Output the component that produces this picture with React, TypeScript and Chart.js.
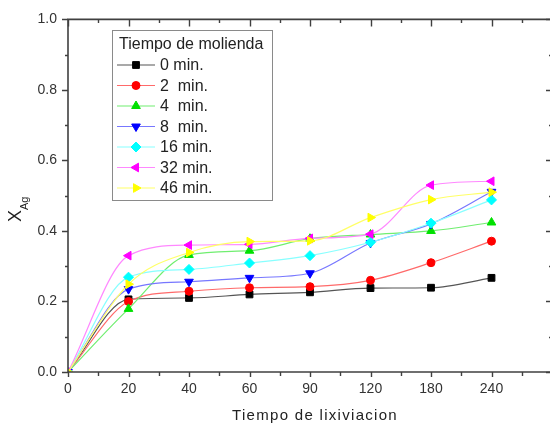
import React, { useEffect, useRef } from "react";
import { Chart, registerables } from "chart.js";

Chart.register(...registerables);

const categories = ["0", "20", "40", "60", "90", "120", "180", "240"];
const seriesLabels = ["0 min.", "2  min.", "4  min.", "8  min.", "16 min.", "32 min.", "46 min."];
const min0 = [0, 0.206, 0.21, 0.22, 0.226, 0.238, 0.239, 0.267];
const min2 = [0, 0.2, 0.229, 0.239, 0.242, 0.26, 0.31, 0.371];
const min4 = [0, 0.179, 0.332, 0.344, 0.378, 0.39, 0.4, 0.424];
const min8 = [0, 0.235, 0.256, 0.267, 0.28, 0.366, 0.42, 0.511];
const min16 = [0, 0.269, 0.291, 0.309, 0.33, 0.368, 0.422, 0.488];
const min32 = [0, 0.33, 0.36, 0.362, 0.379, 0.391, 0.53, 0.541];
const min46 = [0, 0.249, 0.339, 0.37, 0.372, 0.438, 0.489, 0.51];
const yTickValues = [0, 0.2, 0.4, 0.6, 0.8, 1.0];

const FONT = "'Liberation Sans', Arial, sans-serif";

const styles = [
  { marker: "#000000", line: "#555555", pointStyle: "rect", rotation: 0, radius: 4.8 },
  { marker: "#ff0000", line: "#ff6a6a", pointStyle: "circle", rotation: 0, radius: 4 },
  { marker: "#00e000", line: "#70ee70", pointStyle: "triangle", rotation: 0, radius: 5 },
  { marker: "#0000ff", line: "#7777ff", pointStyle: "triangle", rotation: 180, radius: 5 },
  { marker: "#00ffff", line: "#88ffff", pointStyle: "rectRot", rotation: 0, radius: 5 },
  { marker: "#ff00ff", line: "#ff88ff", pointStyle: "triangle", rotation: -90, radius: 5 },
  { marker: "#ffff00", line: "#ffff66", pointStyle: "triangle", rotation: 90, radius: 5 },
];

const allSeries = [min0, min2, min4, min8, min16, min32, min46];

function drawMarker(ctx: CanvasRenderingContext2D, style: string, rotationDeg: number, r: number, x: number, y: number) {
  ctx.save();
  ctx.translate(x, y);
  ctx.rotate((rotationDeg * Math.PI) / 180);
  ctx.beginPath();
  if (style === "circle") {
    ctx.arc(0, 0, r, 0, Math.PI * 2);
  } else if (style === "rect") {
    const s = r * Math.SQRT1_2;
    ctx.rect(-s, -s, 2 * s, 2 * s);
  } else if (style === "rectRot") {
    ctx.moveTo(0, -r);
    ctx.lineTo(r, 0);
    ctx.lineTo(0, r);
    ctx.lineTo(-r, 0);
    ctx.closePath();
  } else {
    ctx.moveTo(0, -r);
    ctx.lineTo(r * Math.cos(Math.PI / 6), r * 0.5);
    ctx.lineTo(-r * Math.cos(Math.PI / 6), r * 0.5);
    ctx.closePath();
  }
  ctx.fill();
  ctx.stroke();
  ctx.restore();
}

const decorPlugin = {
  id: "decor",
  afterDraw(chart: any) {
    const ctx = chart.ctx as CanvasRenderingContext2D;
    const { left, right, top, bottom } = chart.chartArea;
    const xs = chart.scales.x;
    const ys = chart.scales.y;
    ctx.save();
    ctx.strokeStyle = "#404040";
    ctx.lineWidth = 1.6;
    ctx.beginPath();
    ctx.rect(left, top, right - left, bottom - top);
    ctx.stroke();
    ctx.lineWidth = 1.4;
    ctx.beginPath();
    for (let i = 0; i <= 16; i++) {
      const v = i / 2;
      const px = Math.round(xs.getPixelForValue(v)) + 0.5;
      const major = i % 2 === 0;
      ctx.moveTo(px, bottom);
      ctx.lineTo(px, bottom + (major ? 5 : 4));
      ctx.moveTo(px, top);
      ctx.lineTo(px, top + (major ? 7 : 3.5));
    }
    for (let i = 0; i <= 10; i++) {
      const v = i / 10;
      const py = Math.round(ys.getPixelForValue(v)) + 0.5;
      const major = i % 2 === 0;
      ctx.moveTo(left, py);
      ctx.lineTo(left - (major ? 6 : 3), py);
      ctx.moveTo(right, py);
      ctx.lineTo(right - (major ? 6 : 3), py);
    }
    ctx.stroke();

    ctx.fillStyle = "#222222";
    ctx.font = `15px ${FONT}`;
    (ctx as any).letterSpacing = "1.3px";
    ctx.textAlign = "center";
    ctx.textBaseline = "middle";
    ctx.fillText("Tiempo de lixiviacion", 315, 416);
    (ctx as any).letterSpacing = "0px";

    ctx.save();
    ctx.translate(16, 216);
    ctx.rotate(-Math.PI / 2);
    ctx.font = `18px ${FONT}`;
    ctx.textAlign = "center";
    ctx.fillText("X", 0, 0);
    ctx.font = `11px ${FONT}`;
    ctx.textAlign = "left";
    ctx.fillText("Ag", 6, 9);
    ctx.restore();

    const bx = 112, by = 30, bw = 160, bh = 170;
    ctx.fillStyle = "#ffffff";
    ctx.fillRect(bx, by, bw, bh);
    ctx.strokeStyle = "#8a8a8a";
    ctx.lineWidth = 1;
    ctx.strokeRect(bx + 0.5, by + 0.5, bw, bh);
    ctx.fillStyle = "#222222";
    ctx.font = `16px ${FONT}`;
    ctx.textAlign = "left";
    ctx.textBaseline = "middle";
    ctx.fillText("Tiempo de molienda", 119, 45);
    chart.data.datasets.forEach((ds: any, i: number) => {
      const yy = 65 + i * 20.5;
      const st = styles[i];
      ctx.strokeStyle = st.line;
      ctx.lineWidth = 1.2;
      ctx.beginPath();
      ctx.moveTo(117, yy);
      ctx.lineTo(155, yy);
      ctx.stroke();
      ctx.fillStyle = st.marker;
      ctx.strokeStyle = st.marker;
      ctx.lineWidth = 1;
      drawMarker(ctx, st.pointStyle, st.rotation, st.radius, 136, yy);
      ctx.fillStyle = "#222222";
      ctx.font = `16px ${FONT}`;
      ctx.fillText(ds.label, 160, yy + 1);
    });
    ctx.restore();
  },
};

export default function App() {
  const ref = useRef<HTMLCanvasElement | null>(null);
  useEffect(() => {
    if (!ref.current) return;
    const datasets = allSeries.map((vals, i) => ({
      label: seriesLabels[i],
      data: vals.map((v, k) => ({ x: k, y: v })),
      borderColor: styles[i].line,
      backgroundColor: styles[i].marker,
      pointBackgroundColor: styles[i].marker,
      pointBorderColor: styles[i].marker,
      pointStyle: styles[i].pointStyle,
      pointRotation: styles[i].rotation,
      pointRadius: styles[i].radius,
      pointBorderWidth: 1,
      borderWidth: 1.2,
      tension: 0.4,
      cubicInterpolationMode: "monotone",
      order: 6 - i,
    }));
    const chart = new Chart(ref.current, {
      type: "line",
      data: { datasets } as any,
      options: {
        animation: false,
        responsive: false,
        devicePixelRatio: 1,
        layout: { padding: { left: 0, top: 15, right: 3.7, bottom: 0 } },
        plugins: { legend: { display: false }, tooltip: { enabled: false } },
        scales: {
          x: {
            type: "linear",
            min: 0,
            max: 8,
            grid: { display: false, drawTicks: false },
            border: { display: false },
            afterFit: (s: any) => { s.height = 56; },
            ticks: {
              stepSize: 1,
              autoSkip: false,
              maxRotation: 0,
              padding: 9,
              color: "#333333",
              font: { family: FONT, size: 14 },
              callback: (v: any) => (Number.isInteger(v) && v < categories.length ? categories[v] : ""),
            },
          },
          y: {
            type: "linear",
            min: 0,
            max: 1,
            grid: { display: false, drawTicks: false },
            border: { display: false },
            afterFit: (s: any) => { s.width = 68; },
            afterBuildTicks: (s: any) => { s.ticks = yTickValues.map((v) => ({ value: v })); },
            ticks: {
              padding: 11,
              color: "#333333",
              font: { family: FONT, size: 14 },
              callback: (v: any) => Number(v).toFixed(1),
            },
          },
        },
      },
      plugins: [decorPlugin],
    } as any);
    return () => chart.destroy();
  }, []);
  return (
    <div style={{ position: "fixed", left: 0, top: 0, width: 550, height: 428, overflow: "hidden", background: "#fff" }}>
      <canvas ref={ref} width={561} height={428} style={{ display: "block", width: 561, height: 428 }} />
    </div>
  );
}
